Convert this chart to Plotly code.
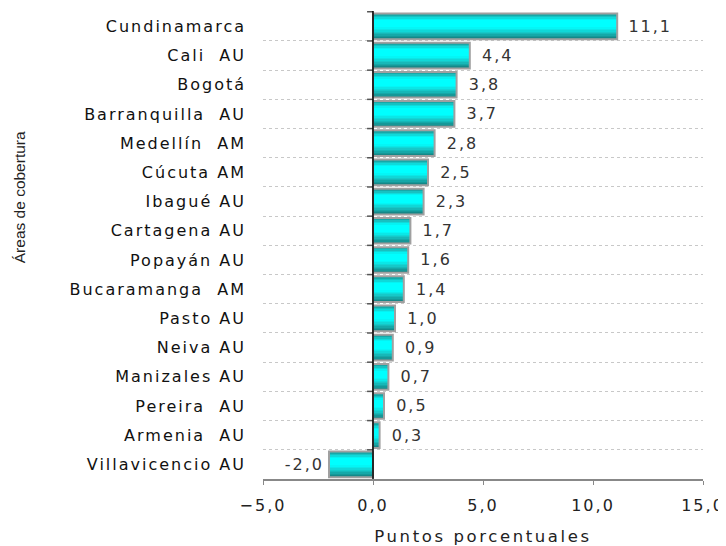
import plotly.graph_objects as go

categories = ["Cundinamarca", "Cali  AU", "Bogotá", "Barranquilla  AU", "Medellín  AM",
              "Cúcuta AM", "Ibagué AU", "Cartagena AU", "Popayán AU", "Bucaramanga  AM",
              "Pasto AU", "Neiva AU", "Manizales AU", "Pereira  AU", "Armenia  AU",
              "Villavicencio AU"]
values = [11.1, 4.4, 3.8, 3.7, 2.8, 2.5, 2.3, 1.7, 1.6, 1.4, 1.0, 0.9, 0.7, 0.5, 0.3, -2.0]
x_ticks = [-5, 0, 5, 10, 15]

FONT = "DejaVu Sans, Liberation Sans, Arial, sans-serif"
fig = go.Figure()

# vertical gradient stops (fraction of bar height from top, rgb) -- styling only
BW = 0.88
stops = [(0.00, (10, 128, 128)), (0.12, (26, 185, 185)), (0.28, (0, 255, 255)),
         (0.55, (0, 255, 255)), (0.75, (22, 200, 200)), (1.00, (20, 128, 128))]
NB = 18


def col_at(t):
    for (a, ca), (b, cb) in zip(stops[:-1], stops[1:]):
        if a <= t <= b:
            f = (t - a) / (b - a) if b > a else 0
            return "rgb(%d,%d,%d)" % tuple(round(ca[k] + (cb[k] - ca[k]) * f) for k in range(3))
    return "rgb(%d,%d,%d)" % stops[-1][1]


for k in range(NB):
    t0, t1 = k / NB, (k + 1) / NB
    fig.add_trace(go.Bar(x=values, y=categories, orientation="h",
                         offset=-BW / 2 + t0 * BW, width=(t1 - t0) * BW + 0.006,
                         marker=dict(color=col_at((t0 + t1) / 2), line=dict(width=0)),
                         hoverinfo="skip", showlegend=False))

templates = ["  %{x:.1f}" if v >= 0 else "%{x:.1f} " for v in values]
# border + labels
fig.add_trace(go.Bar(x=values, y=categories, orientation="h", width=BW,
                     marker=dict(color="rgba(0,0,0,0)", line=dict(color="#a0a0a0", width=2)),
                     texttemplate=templates, textposition="outside",
                     textfont=dict(family=FONT, size=16, color="#333333"),
                     cliponaxis=False, showlegend=False))

shapes = []
n = len(categories)
for i in range(n):
    b = i - 0.5
    shapes.append(dict(type="line", xref="x", yref="y", x0=-0.27, x1=0, y0=b, y1=b,
                       line=dict(color="#555555", width=1.5), layer="above"))
shapes.append(dict(type="line", xref="x", yref="paper", x0=0, x1=0, y0=0, y1=1,
                   line=dict(color="#000000", width=1.5), layer="above"))

L, R, T, B = 255, 23, 3, 60
PW = 718 - L - R
PH = 538 - T - B

fig.update_layout(
    width=718, height=538,
    margin=dict(l=L, r=R, t=T, b=B),
    plot_bgcolor="white", paper_bgcolor="white",
    barmode="overlay", separators=",.",
    font=dict(family=FONT, size=16, color="#222222"),
    shapes=shapes,
    xaxis=dict(range=[-5, 15], tickvals=x_ticks, tickformat=".1f",
               showgrid=False, zeroline=False, showline=True, linecolor="#888888",
               linewidth=1.5, ticks="outside", ticklen=4, tickcolor="#888888",
               ticklabelstandoff=7,
               tickfont=dict(size=16, color="#222222"),
               title=dict(text="Puntos porcentuales", standoff=16,
                          font=dict(size=16.5, color="#222222"))),
    yaxis=dict(categoryorder="array", categoryarray=categories, autorange="reversed",
               tickson="boundaries", showgrid=True, gridcolor="#c8c8c8", griddash="dot",
               gridwidth=1, ticks="", showline=False, zeroline=False,
               ticklabelstandoff=16, tickfont=dict(size=16, color="#111111")),
    annotations=[dict(text="Áreas de cobertura", xref="paper", yref="paper",
                      x=(11 - L) / PW, y=(478 - 192) / PH, xanchor="center", yanchor="middle",
                      textangle=-90, showarrow=False,
                      font=dict(family="Liberation Sans, Arial, sans-serif",
                                size=15.5, color="#222222"))],
)

post = """
var s = document.createElement('style');
s.textContent = '.xtick text, .ytick text, text.bartext {letter-spacing: 2px;} text.xtitle {letter-spacing: 2.6px;}';
document.head.appendChild(s);
"""

fig.write_html("out.html", post_script=post)
